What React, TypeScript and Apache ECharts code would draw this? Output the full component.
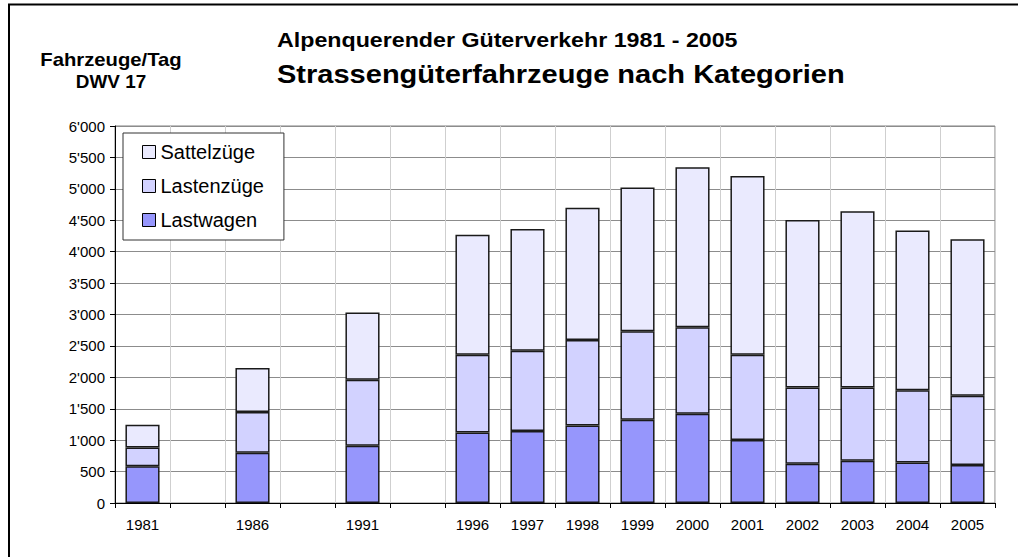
import React, { useEffect, useRef } from "react";
import * as echarts from "echarts";

const categories = ["1981", "", "1986", "", "1991", "", "1996", "1997", "1998", "1999", "2000", "2001", "2002", "2003", "2004", "2005"];
const lastwagen = [583, null, 801, null, 912, null, 1124, 1146, 1235, 1326, 1422, 1003, 626, 673, 646, 605];
const lastenzuege = [302, null, 648, null, 1051, null, 1237, 1279, 1360, 1406, 1374, 1358, 1214, 1167, 1147, 1103];
const sattelzuege = [362, null, 700, null, 1067, null, 1910, 1937, 2102, 2288, 2547, 2845, 2665, 2802, 2542, 2489];
const seriesNames = ["Lastwagen", "Lastenzüge", "Sattelzüge"];
const legendOrder = ["Sattelzüge", "Lastenzüge", "Lastwagen"];
const colors = ["#9696FC", "#D2D2FF", "#EAEAFE"];
const titleLine1 = "Alpenquerender Güterverkehr 1981 - 2005";
const titleLine2 = "Strassengüterfahrzeuge nach Kategorien";
const unitLine1 = "Fahrzeuge/Tag";
const unitLine2 = "DWV 17";

const FONT = "Arial, 'Liberation Sans', sans-serif";

function fmt(v: number): string {
  if (v >= 1000) {
    return Math.floor(v / 1000) + "'" + String(v % 1000).padStart(3, "0");
  }
  return String(v);
}

export default function App() {
  const ref = useRef<HTMLDivElement>(null);
  useEffect(() => {
    if (!ref.current) return;
    const chart = echarts.init(ref.current, undefined, { renderer: "svg" });
    const data = [lastwagen, lastenzuege, sattelzuege];
    chart.setOption({
      animation: false,
      backgroundColor: "#ffffff",
      textStyle: { fontFamily: FONT },
      grid: {
        left: 115,
        right: 23,
        top: 126,
        bottom: 54,
        show: true,
        borderColor: "#808080",
        borderWidth: 1,
      },
      legend: {
        data: legendOrder,
        orient: "vertical",
        left: 123,
        top: 133,
        padding: [9, 20, 10, 19],
        itemWidth: 13,
        itemHeight: 13,
        itemGap: 14,
        backgroundColor: "#ffffff",
        borderColor: "#333333",
        borderWidth: 1,
        borderRadius: 0,
        icon: "rect",
        itemStyle: { borderColor: "#000", borderWidth: 1 },
        textStyle: { fontSize: 20, color: "#000", fontFamily: FONT, padding: [0, 0, 0, 0] },
      },
      xAxis: {
        type: "category",
        data: categories,
        axisLine: { lineStyle: { color: "#000", width: 1 } },
        axisTick: { show: true, interval: 0, length: 5, lineStyle: { color: "#000" } },
        axisLabel: { interval: 0, fontSize: 15, color: "#000", margin: 14, fontFamily: FONT },
        splitLine: { show: true, interval: 0, lineStyle: { color: "#cfcfcf", width: 1 } },
      },
      yAxis: {
        type: "value",
        min: 0,
        max: 6000,
        interval: 500,
        axisLine: { show: true, lineStyle: { color: "#000", width: 1 } },
        axisTick: { show: true, length: 5, lineStyle: { color: "#000" } },
        axisLabel: { fontSize: 15, color: "#000", margin: 10, fontFamily: FONT, formatter: fmt },
        splitLine: { show: true, lineStyle: { color: "#8c8c8c", width: 1 } },
      },
      series: seriesNames.map((name, i) => ({
        name,
        type: "bar",
        stack: "total",
        data: data[i],
        barCategoryGap: "38%",
        itemStyle: { color: colors[i], borderColor: "#1a1a1a", borderWidth: 1.5 },
      })),
      graphic: [
        {
          type: "rect",
          shape: { x: 9, y: 4.5, width: 1200, height: 800 },
          style: { fill: "none", stroke: "#000", lineWidth: 2 },
          silent: true,
        },
        {
          type: "text",
          x: 277,
          y: 39.7,
          scaleX: 1.106,
          style: { text: titleLine1, fontSize: 21, fontWeight: "bold", fill: "#000", fontFamily: FONT, align: "left", verticalAlign: "middle" },
        },
        {
          type: "text",
          x: 277,
          y: 74.3,
          scaleX: 1.117,
          style: { text: titleLine2, fontSize: 26, fontWeight: "bold", fill: "#000", fontFamily: FONT, align: "left", verticalAlign: "middle" },
        },
        {
          type: "text",
          x: 111,
          y: 59.5,
          scaleX: 1.126,
          style: { text: unitLine1, fontSize: 18, fontWeight: "bold", fill: "#000", fontFamily: FONT, align: "center", verticalAlign: "middle" },
        },
        {
          type: "text",
          x: 111,
          y: 81.8,
          scaleX: 1.05,
          style: { text: unitLine2, fontSize: 18, fontWeight: "bold", fill: "#000", fontFamily: FONT, align: "center", verticalAlign: "middle" },
        },
      ],
    });
    return () => chart.dispose();
  }, []);
  return (
    <div
      ref={ref}
      style={{ position: "fixed", left: 0, top: 0, width: 1018, height: 557, background: "#fff" }}
    />
  );
}
